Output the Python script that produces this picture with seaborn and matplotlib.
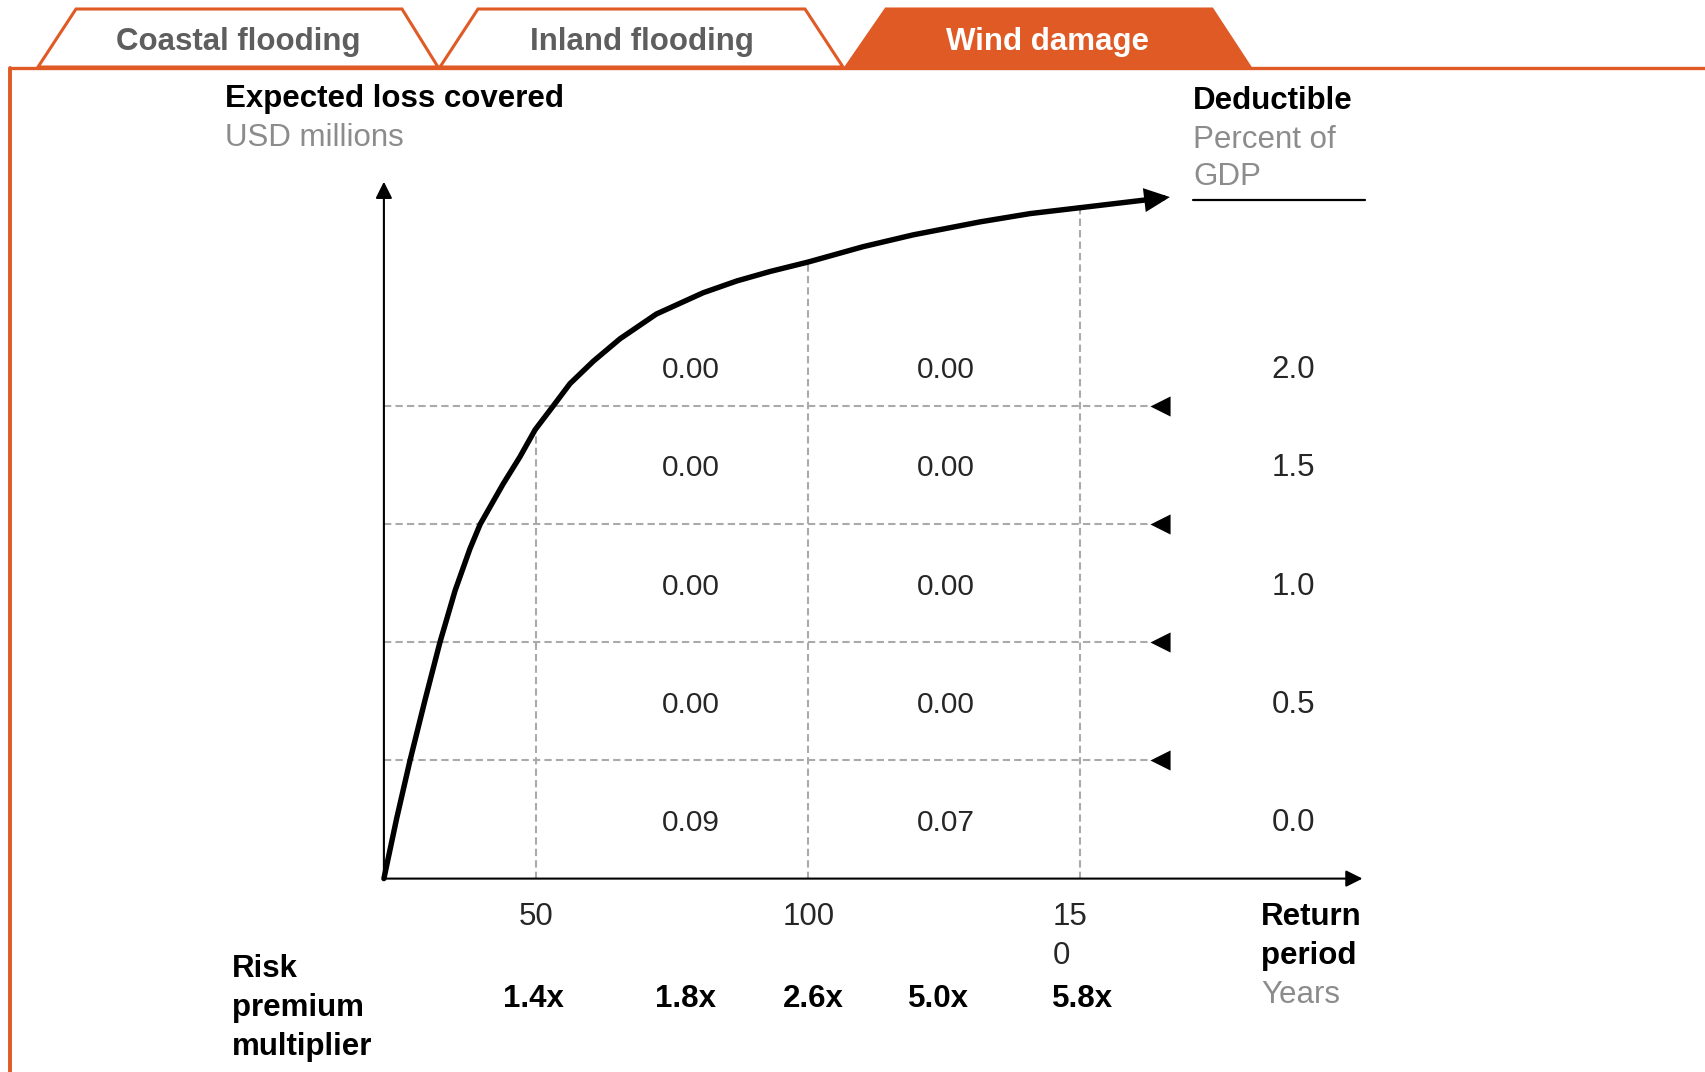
import matplotlib
matplotlib.use('Agg')
import matplotlib.pyplot as plt
import seaborn as sns
import pandas as pd
from matplotlib.patches import Polygon
from matplotlib.lines import Line2D
from matplotlib.transforms import blended_transform_factory, ScaledTranslation

# curve: return period (years) vs expected loss (in grid rows)
period = [22, 24.35, 26.8, 29.55, 32.3, 35.1, 37.8, 39.7, 43.9, 47.0, 49.8, 53.1,
          56.2, 60.5, 65.4, 72.1, 80.7, 86.9, 93.0, 100, 110.1, 119.3, 131.6,
          140.8, 150, 166.5]
loss = [0, 0.51, 1.0, 1.51, 2.0, 2.44, 2.79, 3.0, 3.34, 3.57, 3.80, 4.0,
        4.19, 4.38, 4.57, 4.78, 4.96, 5.06, 5.14, 5.22, 5.35, 5.45, 5.56,
        5.63, 5.68, 5.77]

tick_periods = [50, 100, 150]
tick_labels = ['50', '100', '15\n0']
vline_tops = [3.82, 5.22, 5.68]
grid_levels = [1, 2, 3, 4]

row_levels = [4.33, 3.5, 2.5, 1.5, 0.5]
deductible = ['2.0', '1.5', '1.0', '0.5', '0.0']
cells_left = ['0.00', '0.00', '0.00', '0.00', '0.09']
cells_right = ['0.00', '0.00', '0.00', '0.00', '0.07']
cell_cols = [78.5, 125.3]
deductible_col = 189.2

multipliers = ['1.4x', '1.8x', '2.6x', '5.0x', '5.8x']
multiplier_x = [49.5, 77.5, 101, 124, 150.5]

tabs = ['Coastal flooding', 'Inland flooding', 'Wind damage']
active_tab = 2

ORANGE = '#E05A26'
GRAY = '#8C8C8C'
TABGRAY = '#5E5E5E'
DASH = '#AAAAAA'
FS = 22.5

sns.set_theme(style='white')
plt.rcParams['font.family'] = ['Liberation Sans', 'DejaVu Sans']

W, H = 1705, 1072
def fx(px):
    return px / W
def fy(py):
    return 1 - py / H

fig = plt.figure(figsize=(W / 100, H / 100), dpi=100)
# matplotlib's 'center' sits a bit above the visual middle of the glyphs
down = ScaledTranslation(0, -0.033, fig.dpi_scale_trans)

# tabs on top
tab_shapes = [[(38, 67), (76, 9), (402, 9), (438, 67)],
              [(440, 67), (478, 9), (805, 9), (843, 67)],
              [(846, 67), (886, 9), (1212, 9), (1250, 67)]]
for i, (name, shape) in enumerate(zip(tabs, tab_shapes)):
    pts = [(fx(x), fy(y)) for x, y in shape]
    active = i == active_tab
    fig.add_artist(Polygon(pts, closed=True, transform=fig.transFigure,
                           facecolor=ORANGE if active else 'white',
                           edgecolor=ORANGE, lw=2.2, joinstyle='miter'))
    cx = (shape[0][0] + shape[3][0]) / 2
    fig.text(fx(cx), fy(42), name, ha='center', va='center', fontsize=FS,
             fontweight='bold', color='white' if active else TABGRAY)

# frame lines
fig.add_artist(Line2D([fx(10), fx(W)], [fy(68), fy(68)], color=ORANGE, lw=2.4))
fig.add_artist(Line2D([fx(10), fx(10)], [fy(68), 0], color=ORANGE, lw=2.8))

# main axes
ax = fig.add_axes([0.22516, 0.18041, 0.57396, 0.65009])
ax.set_xlim(22, 201.9)
ax.set_ylim(0, 5.9)
sns.despine(ax=ax, left=True, bottom=True)
ax.set_yticks([])
ax.set_xticks(tick_periods)
ax.set_xticklabels(tick_labels, fontsize=FS, linespacing=1.36)
ax.tick_params(axis='x', length=0, pad=17.2)
last = ax.get_xticklabels()[-1]
last.set_multialignment('left')
last.set_transform(last.get_transform() + ScaledTranslation(-0.10, 0, fig.dpi_scale_trans))

# dashed grid
ax.hlines(grid_levels, 22, 162.8, colors=DASH, linestyles=(0, (3.5, 2)), lw=1.5)
ax.vlines(tick_periods, 0, vline_tops, colors=DASH, linestyles=(0, (3.5, 2)), lw=1.5)

# arrows pointing at the deductible levels
sns.scatterplot(x=[164.6] * len(grid_levels), y=grid_levels, marker='<', s=210,
                color='black', linewidth=0, ax=ax, clip_on=False)

# axes arrows
axis_arrow = dict(arrowstyle='-|>,head_length=0.5,head_width=0.25', mutation_scale=20,
                  lw=1.5, color='black', shrinkA=0, shrinkB=0)
ax.annotate('', xy=(1, 0), xytext=(0, 0), xycoords='axes fraction', arrowprops=axis_arrow)
ax.annotate('', xy=(0, 1), xytext=(0, 0), xycoords='axes fraction', arrowprops=axis_arrow)

# loss curve
curve = pd.DataFrame({'period': period, 'loss': loss})
sns.lineplot(data=curve.iloc[:-1], x='period', y='loss', sort=False, estimator=None,
             color='black', lw=3.9, ax=ax, clip_on=False,
             solid_joinstyle='round', solid_capstyle='round')
ax.annotate('', xy=(period[-1], loss[-1]), xytext=(period[-2], loss[-2]),
            arrowprops=dict(arrowstyle='-|>,head_length=0.6,head_width=0.28',
                            mutation_scale=20, lw=3.9, color='black',
                            shrinkA=0, shrinkB=0, joinstyle='miter'))
ax.set_xlabel('')
ax.set_ylabel('')

# table values
tdata = ax.transData + down
for lvl, a, b, d in zip(row_levels, cells_left, cells_right, deductible):
    ax.text(cell_cols[0], lvl, a, transform=tdata, ha='center', va='center', fontsize=21.5)
    ax.text(cell_cols[1], lvl, b, transform=tdata, ha='center', va='center', fontsize=21.5)
    ax.text(deductible_col, lvl, d, transform=tdata, ha='center', va='center', fontsize=FS)

trans = blended_transform_factory(ax.transData, fig.transFigure)
for x, m in zip(multiplier_x, multipliers):
    ax.text(x, fy(999), m, transform=trans, ha='center', va='center',
            fontsize=FS, fontweight='bold', color='black')

# labels around the chart
fig.text(fx(225), fy(99), 'Expected loss covered', ha='left', va='center',
         fontsize=FS, fontweight='bold', color='black')
fig.text(fx(225), fy(138), 'USD millions', ha='left', va='center', fontsize=FS, color=GRAY)

fig.text(fx(1193), fy(101), 'Deductible', ha='left', va='center',
         fontsize=FS, fontweight='bold', color='black')
fig.text(fx(1193), fy(140), 'Percent of', ha='left', va='center', fontsize=FS, color=GRAY)
fig.text(fx(1193), fy(177), 'GDP', ha='left', va='center', fontsize=FS, color=GRAY)
fig.add_artist(Line2D([fx(1193), fx(1365)], [fy(200), fy(200)], color='black', lw=1.6))

for y, line in zip([917, 956], ['Return', 'period']):
    fig.text(fx(1261), fy(y), line, ha='left', va='center', fontsize=FS,
             fontweight='bold', color='black')
fig.text(fx(1261), fy(995), 'Years', ha='left', va='center', fontsize=FS, color=GRAY)

for y, line in zip([969, 1008, 1047], ['Risk', 'premium', 'multiplier']):
    fig.text(fx(232), fy(y), line, ha='left', va='center', fontsize=FS,
             fontweight='bold', color='black')

fig.savefig('out.png', dpi=100, facecolor='white')
